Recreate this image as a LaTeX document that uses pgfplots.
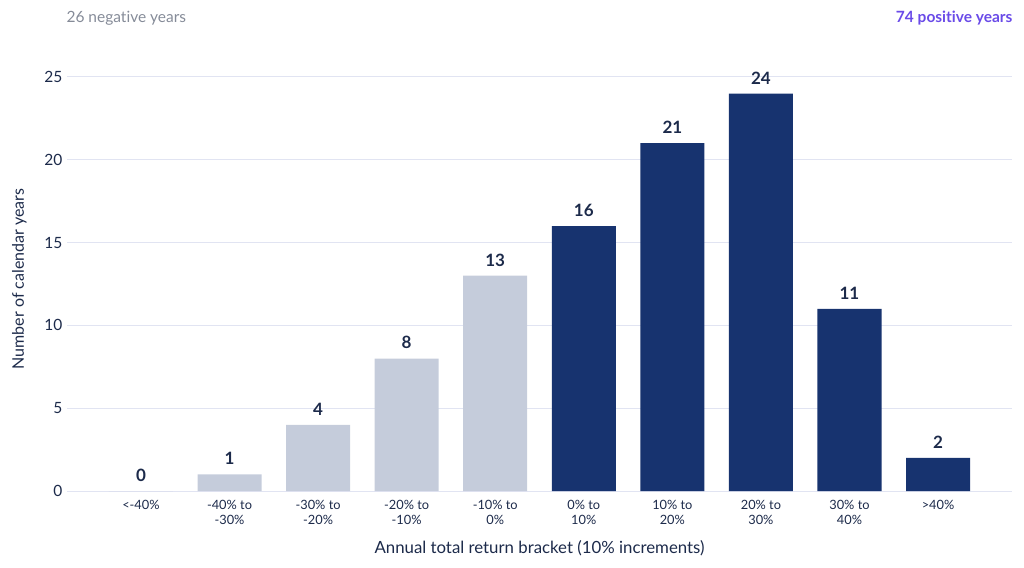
\documentclass[border=0pt]{standalone}
\usepackage{pgfplots}
\pgfplotsset{compat=1.18}
\usepackage{fontspec}
\setmainfont{Lato}[Ligatures={NoCommon}]
\definecolor{navy}{HTML}{17336F}
\definecolor{lightbar}{HTML}{C5CCDB}
\definecolor{tickc}{HTML}{1C2A4A}
\definecolor{gridc}{HTML}{E1E4F2}
\definecolor{graytxt}{HTML}{858B98}
\definecolor{purp}{HTML}{6A4BE8}
\begin{document}
\begin{tikzpicture}[x=1pt,y=1pt]
\path[use as bounding box] (0,0) rectangle (1024,567);
\begin{axis}[
  at={(67pt,76pt)}, anchor=south west,
  scale only axis, width=945pt, height=414pt,
  xmin=-0.835, xmax=9.835, ymin=0, ymax=25,
  axis line style={draw=none},
  tick style={draw=none},
  ymajorgrids, xmajorgrids=false,
  major grid style={draw=gridc, line width=1pt},
  ytick={0,5,10,15,20,25},
  xtick={0,...,9},
  xticklabels={{<-40\%},{-40\% to\\-30\%},{-30\% to\\-20\%},{-20\% to\\-10\%},{-10\% to\\0\%},{0\% to\\10\%},{10\% to\\20\%},{20\% to\\30\%},{30\% to\\40\%},{>40\%}},
  xticklabel style={align=center, font=\fontsize{12.8}{15}\selectfont, text=tickc, yshift=-1pt},
  yticklabel style={font=\fontsize{15.5}{16}\selectfont, text=tickc, xshift=-1pt},
  /pgf/number format/assume math mode=true,
  xlabel={Annual total return bracket (10\% increments)},
  ylabel={Number of calendar years},
  xlabel style={font=\fontsize{16.8}{18}\selectfont, text=tickc, yshift=-9pt},
  ylabel style={font=\fontsize{16}{17}\selectfont, text=tickc, yshift=11pt, xshift=5pt},
  clip=false,
  nodes near coords,
  every node near coord/.append style={font=\bfseries\fontsize{17}{18}\selectfont, text=tickc, yshift=6pt},
  ybar, bar width=64pt, bar shift=0pt,
]
\addplot[fill=lightbar, draw=none] coordinates {(0,0) (1,1) (2,4) (3,8) (4,13)};
\addplot[fill=navy, draw=none] coordinates {(5,16) (6,21) (7,24) (8,11) (9,2)};
\end{axis}
\node[anchor=west, text=graytxt, font=\fontsize{15.5}{16}\selectfont] at (63,549) {26 negative years};
\node[anchor=east, text=purp, font=\bfseries\fontsize{15.5}{16}\selectfont] at (1016,549) {74 positive years};
\end{tikzpicture}
\end{document}
